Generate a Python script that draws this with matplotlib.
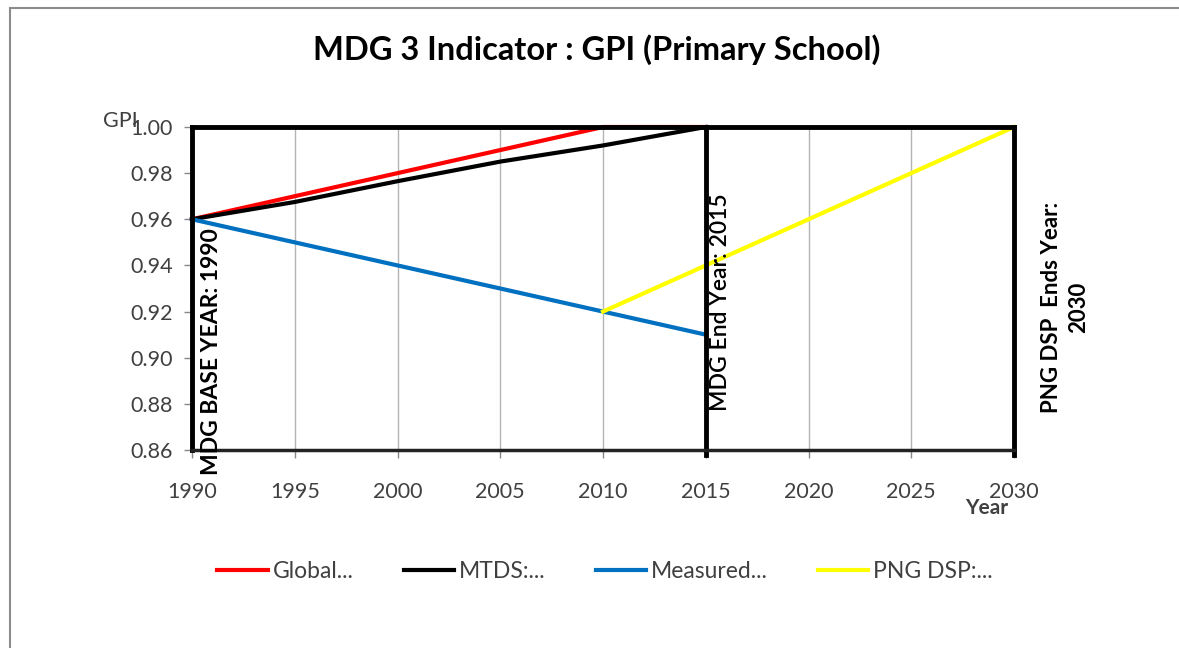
import matplotlib.pyplot as plt
from matplotlib.patches import Rectangle

# data
global_years = [1990, 2010, 2015]
global_gpi = [0.96, 1.00, 1.00]

mtds_years = [1990, 1995, 2000, 2005, 2010, 2015]
mtds_gpi = [0.96, 0.9675, 0.9765, 0.985, 0.992, 1.00]

measured_years = [1990, 2010, 2015]
measured_gpi = [0.96, 0.92, 0.91]

dsp_years = [2010, 2030]
dsp_gpi = [0.92, 1.00]

marker_years = [2015, 2030]
x_ticks = [1990, 1995, 2000, 2005, 2010, 2015, 2020, 2025, 2030]
y_ticks = [0.86, 0.88, 0.90, 0.92, 0.94, 0.96, 0.98, 1.00]

plt.rcParams['font.family'] = ['Lato', 'DejaVu Sans']
txt = '#404040'

fig = plt.figure(figsize=(11.79, 6.48), dpi=100)
ax = fig.add_axes([192/1179, 1-450/648, 822/1179, 323/648])

# outer chart border (cut off on right and bottom)
fig.patches.append(Rectangle((10/1179, -0.1), 1.2, 1-8/648+0.1, transform=fig.transFigure,
                             fill=False, edgecolor='#8c8c8c', lw=1.5))

for x in x_ticks[1:-1]:
    ax.axvline(x, color='#b4b4b4', lw=1, zorder=0)

ax.plot(global_years, global_gpi, color='#ff0000', lw=3, label='Global...', clip_on=False, zorder=3)
ax.plot(mtds_years, mtds_gpi, color='black', lw=3, label='MTDS:...', clip_on=False, zorder=3)
ax.plot(measured_years, measured_gpi, color='#0070c0', lw=3, label='Measured...', clip_on=False, zorder=3)
ax.plot(dsp_years, dsp_gpi, color='#ffff00', lw=3, label='PNG DSP:...', clip_on=False, zorder=3)

for x in marker_years:
    ax.axvline(x, color='black', lw=3.5, zorder=4, ymin=-0.015, clip_on=False)

ax.set_xlim(1990, 2030)
ax.set_ylim(0.86, 1.00)
ax.set_xticks(x_ticks)
ax.set_yticks(y_ticks)
ax.set_yticklabels([f'{v:.2f}' for v in y_ticks])
ax.tick_params(labelsize=15.5, colors=txt, length=6, width=1, pad=8)
ax.tick_params(axis='x', color='#888888', pad=17)
ax.tick_params(axis='y', color='#888888')

ax.spines['top'].set_linewidth(3.5)
ax.spines['left'].set_linewidth(3.5)
ax.spines['right'].set_visible(False)
ax.spines['bottom'].set_linewidth(2.5)
ax.spines['bottom'].set_color('#222222')
for s in ax.spines.values():
    s.set_zorder(5)

ax.text(1990.97, 0.9025, 'MDG BASE YEAR: 1990', rotation=90, ha='center', va='center',
        fontsize=16.5, fontweight='bold', color='black', clip_on=False, zorder=6)
ax.text(2015.7, 0.924, 'MDG End Year: 2015', rotation=90, ha='center', va='center',
        fontsize=16.5, fontweight='semibold', color='black', clip_on=False, zorder=6)
ax.text(2032.5, 0.922, 'PNG DSP  Ends Year:\n2030', rotation=90, ha='center', va='center',
        fontsize=16, fontweight='bold', color='black', clip_on=False, multialignment='center',
        linespacing=1.35)

fig.text(597/1179, 1-50/648, 'MDG 3 Indicator : GPI (Primary School)', ha='center', va='center',
         fontsize=23.5, fontweight='bold', color='black')
# the axis title sits over the top tick label, as in the original
fig.text(120/1179, 1-121/648, 'GPI', ha='center', va='center', fontsize=15.5, color=txt)
fig.text(987/1179, 1-508/648, 'Year', ha='center', va='center', fontsize=15, fontweight='bold',
         color=txt)

fig.legend(loc='center', bbox_to_anchor=(605/1179, 1-572/648), ncol=4, frameon=False,
           fontsize=16.5, handlelength=2.2, handletextpad=0.2, columnspacing=2.2,
           labelcolor=txt)

fig.savefig('out.png', dpi=100)
